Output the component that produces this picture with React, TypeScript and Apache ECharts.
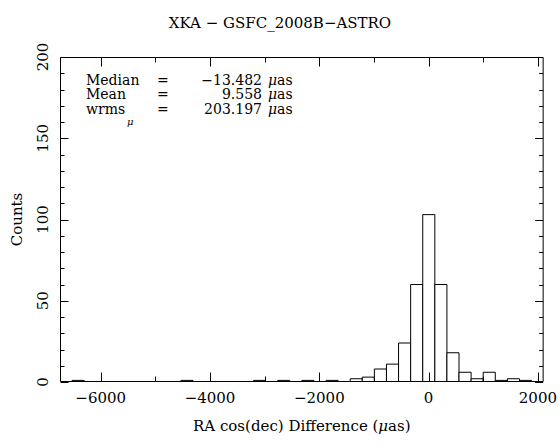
import React, { useEffect, useRef } from "react";
import * as echarts from "echarts";

// ---- data ----
const TITLE = "XKA − GSFC_2008B−ASTRO";
const X_MIN = -6745;
const X_MAX = 2105;
const BIN_START = -6745;
const BIN_WIDTH = 221.25;
// counts per bin (40 bins starting at BIN_START)
const binCounts = [
  0, 1, 0, 0, 0, 0, 0, 0, 0, 0,
  1, 0, 0, 0, 0, 0, 1, 0, 1, 0,
  1, 0, 1, 0, 2, 3, 8, 11, 24, 60,
  103, 60, 18, 6, 2, 6, 1, 2, 1, 0,
];
const xMajorTicks = [-6000, -4000, -2000, 0, 2000];
const xMinorTicks = [-5000, -3000, -1000, 1000];
const yMajorTicks = [0, 50, 100, 150, 200];
const yMinorTicks = [10, 20, 30, 40, 60, 70, 80, 90, 110, 120, 130, 140, 160, 170, 180, 190];
const statLabels = ["Median", "Mean", "wrms"];
const statValues = ["−13.482", "9.558", "203.197"];

const FONT = "DejaVu Serif";

function fmt(v: number) {
  return v < 0 ? "−" + Math.abs(v) : String(v);
}

export default function App() {
  const ref = useRef<HTMLDivElement>(null);
  useEffect(() => {
    if (!ref.current) return;
    const chart = echarts.init(ref.current, null, { renderer: "svg" });
    const bars = binCounts
      .map((c, i) => [BIN_START + i * BIN_WIDTH, BIN_START + (i + 1) * BIN_WIDTH, c])
      .filter((d) => d[2] > 0);

    const stats: any[] = [];
    const rowsY = [79.5, 94, 108.5];
    const txt = (text: string, x: number, y: number, extra: any = {}) => ({
      type: "text",
      x,
      y,
      style: {
        text,
        font: `14px '${FONT}'`,
        fill: "#000",
        verticalAlign: "middle",
        lineHeight: 14,
        ...extra,
      },
    });
    statLabels.forEach((lab, i) => {
      stats.push(txt(lab, 86, rowsY[i]));
      stats.push(txt("=", 157, rowsY[i]));
      stats.push(txt(statValues[i], 262, rowsY[i], { align: "right" }));
      stats.push(
        txt("{i|μ}as", 268, rowsY[i], {
          rich: { i: { fontStyle: "italic", fontFamily: FONT, fontSize: 14, lineHeight: 14 } },
        })
      );
    });
    stats.push(txt("μ", 127, 121, { font: `italic 10px '${FONT}'`, lineHeight: 10 }));

    const black = { color: "#000", width: 1 };

    chart.setOption({
      animation: false,
      backgroundColor: "#fff",
      textStyle: { fontFamily: FONT },
      title: {
        text: TITLE,
        left: "center",
        top: 10,
        textStyle: { fontFamily: FONT, fontSize: 15, fontWeight: "normal", color: "#000" },
      },
      grid: { left: 60, top: 57, right: 15, bottom: 64 },
      xAxis: {
        type: "value",
        min: X_MIN,
        max: X_MAX,
        splitLine: { show: false },
        axisLine: { show: false, onZero: false },
        axisTick: { show: false },
        name: "RA cos(dec) Difference ({i|μ}as)",
        nameLocation: "middle",
        nameGap: 36,
        nameTextStyle: {
          fontFamily: FONT,
          fontSize: 15,
          color: "#000",
          rich: { i: { fontStyle: "italic", fontFamily: FONT, fontSize: 15, color: "#000" } },
        },
        axisLabel: {
          show: true,
          customValues: xMajorTicks,
          formatter: (v: number) => fmt(v),
          fontFamily: FONT,
          fontSize: 15,
          color: "#000",
          margin: 8,
        },
      },
      yAxis: {
        type: "value",
        min: yMajorTicks[0],
        max: yMajorTicks[yMajorTicks.length - 1],
        interval: 50,
        splitLine: { show: false },
        axisLine: { show: false, onZero: false },
        axisTick: { show: false },
        name: "Counts",
        nameLocation: "middle",
        nameGap: 36,
        nameRotate: 90,
        nameTextStyle: { fontFamily: FONT, fontSize: 15, color: "#000" },
        axisLabel: {
          rotate: 90,
          fontFamily: FONT,
          fontSize: 15,
          color: "#000",
          margin: 10,
          formatter: (v: number) => fmt(v),
        },
      },
      series: [
        {
          type: "custom",
          clip: true,
          data: bars,
          renderItem: (params: any, api: any) => {
            const p0 = api.coord([api.value(0), 0]);
            const p1 = api.coord([api.value(1), api.value(2)]);
            return {
              type: "rect",
              shape: { x: p0[0], y: p1[1], width: p1[0] - p0[0], height: p0[1] - p1[1] },
              style: { fill: "#fff", stroke: "#000", lineWidth: 1 },
            };
          },
        },
        {
          // frame box with inward ticks on all four sides
          type: "custom",
          clip: false,
          silent: true,
          z: 5,
          data: [[0, 0]],
          renderItem: (params: any, api: any) => {
            const cs = params.coordSys;
            const L = cs.x + 0.5;
            const R = cs.x + cs.width - 0.5;
            const T = cs.y + 0.5;
            const B = cs.y + cs.height - 0.5;
            const children: any[] = [];
            const line = (x1: number, y1: number, x2: number, y2: number) =>
              children.push({
                type: "line",
                shape: { x1, y1, x2, y2 },
                style: { stroke: black.color, lineWidth: black.width },
              });
            line(L, T, R, T);
            line(R, T, R, B);
            line(R, B, L, B);
            line(L, B, L, T);
            const xt = (vals: number[], len: number) =>
              vals.forEach((v) => {
                const px = Math.round(api.coord([v, 0])[0]) + 0.5;
                line(px, B, px, B - len);
                line(px, T, px, T + len);
              });
            const yt = (vals: number[], len: number) =>
              vals.forEach((v) => {
                const py = Math.round(api.coord([X_MIN, v])[1]) + 0.5;
                line(L, py, L + len, py);
                line(R, py, R - len, py);
              });
            xt(xMajorTicks, 9);
            xt(xMinorTicks, 5);
            yt(yMajorTicks, 8);
            yt(yMinorTicks, 4);
            return { type: "group", children };
          },
        },
      ],
      graphic: stats,
    });
    return () => chart.dispose();
  }, []);
  return (
    <div
      ref={ref}
      style={{ position: "absolute", left: 0, top: 0, width: 560, height: 446 }}
    />
  );
}
